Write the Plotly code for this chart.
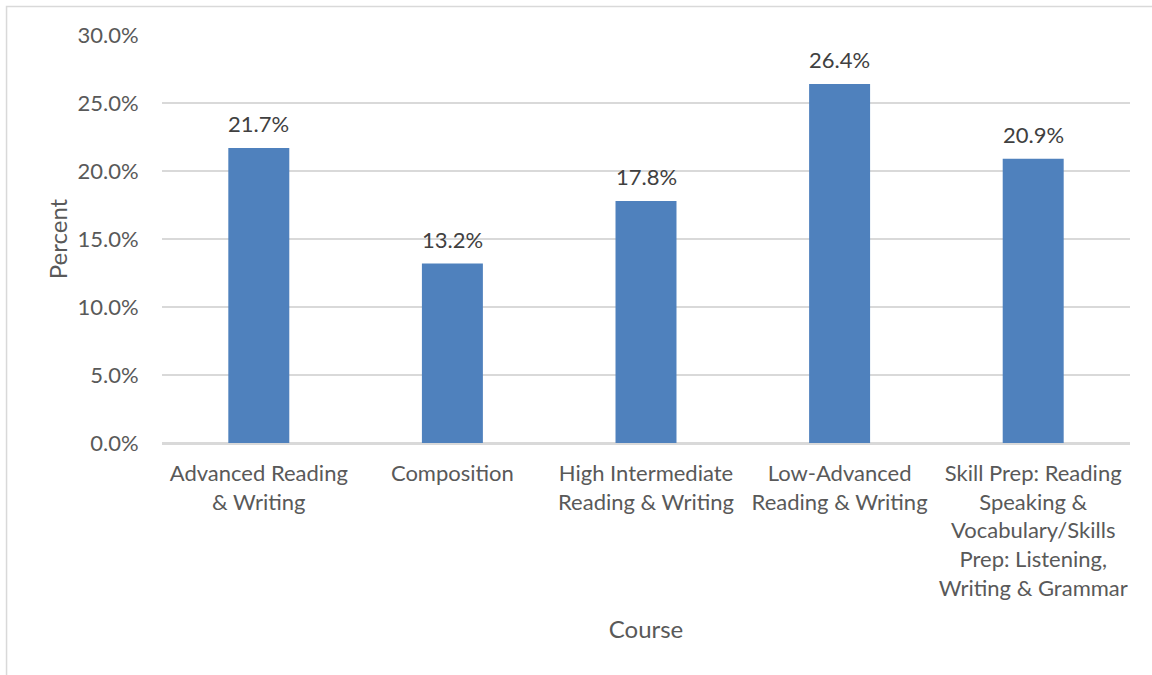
import plotly.graph_objects as go

# Share of students by course
courses = [
    "Advanced Reading<br>& Writing",
    "Composition",
    "High Intermediate<br>Reading & Writing",
    "Low-Advanced<br>Reading & Writing",
    "Skill Prep: Reading<br>Speaking &<br>Vocabulary/Skills<br>Prep: Listening,<br>Writing & Grammar",
]
percents = [21.7, 13.2, 17.8, 26.4, 20.9]
y_ticks = [0, 5, 10, 15, 20, 25, 30]
y_tick_labels = ["0.0%", "5.0%", "10.0%", "15.0%", "20.0%", "25.0%", "30.0%"]

FONT = "Lato"
TEXT = "#595959"
LABEL = "#404040"
GRID = "#D9D9D9"

fig = go.Figure(
    go.Bar(
        x=courses,
        y=percents,
        marker=dict(color="#4F81BD", line=dict(width=0)),
        cliponaxis=False,
    )
)

# Value labels sitting above each bar
for c, v in zip(courses, percents):
    fig.add_annotation(
        x=c,
        y=v,
        xref="x",
        yref="y",
        text=f"{v:.1f}%",
        showarrow=False,
        yanchor="middle",
        yshift=24,
        font=dict(family=FONT, size=22, color=LABEL),
    )

fig.update_layout(
    width=1152,
    height=675,
    margin=dict(l=162, r=22, t=35, b=232),
    paper_bgcolor="white",
    plot_bgcolor="white",
    bargap=0.685,
    showlegend=False,
    font=dict(family=FONT, size=22, color=TEXT),
    xaxis=dict(
        showgrid=False,
        showline=True,
        linecolor=GRID,
        linewidth=1.5,
        ticks="outside",
        ticklen=10,
        tickcolor="rgba(0,0,0,0)",
        tickfont=dict(family=FONT, size=22, color=TEXT),
        title=dict(text="Course", font=dict(family=FONT, size=24, color=TEXT), standoff=22),
    ),
    yaxis=dict(
        range=[0, 30],
        tickvals=y_ticks,
        ticktext=y_tick_labels,
        showgrid=True,
        gridcolor=GRID,
        gridwidth=1.5,
        zeroline=True,
        zerolinecolor=GRID,
        zerolinewidth=1.5,
        ticks="outside",
        ticklen=18,
        tickcolor="rgba(0,0,0,0)",
        tickfont=dict(family=FONT, size=22, color=TEXT),
        title=dict(text="Percent", font=dict(family=FONT, size=24, color=TEXT), standoff=3),
    ),
    shapes=[
        dict(
            type="rect",
            xref="paper",
            yref="paper",
            x0=-0.1606,
            x1=1.06,
            y0=-0.75,
            y1=1.0699,
            line=dict(color=GRID, width=1.5),
            fillcolor="rgba(0,0,0,0)",
            layer="below",
        )
    ],
)

fig.write_html("out.html")
